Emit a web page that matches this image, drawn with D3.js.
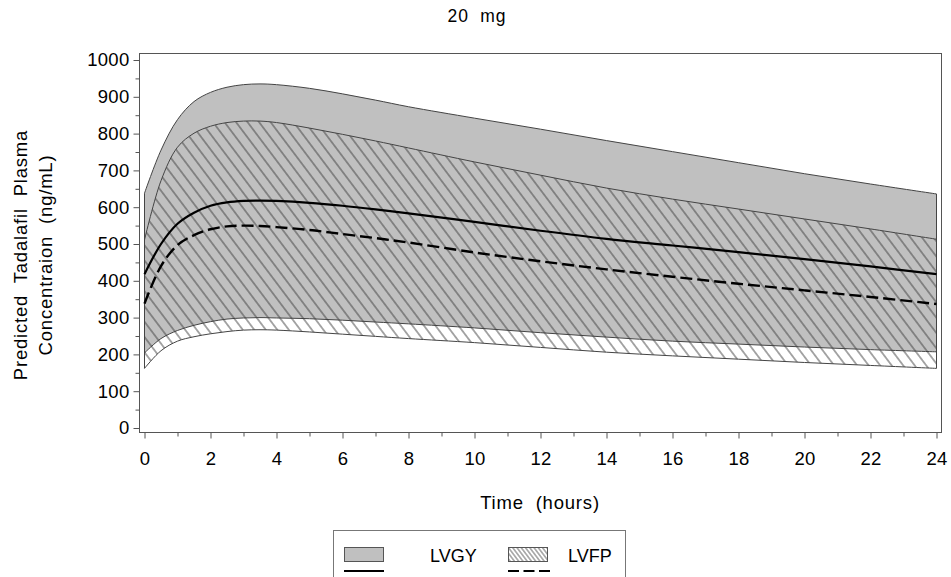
<!DOCTYPE html>
<html>
<head>
<meta charset="utf-8">
<script src="https://cdn.jsdelivr.net/npm/d3@7/dist/d3.min.js"></script>
<style>
  html, body { margin: 0; padding: 0; background: #fff; }
  svg { display: block; font-family: "Liberation Sans", Arial, sans-serif; }
</style>
</head>
<body>
<svg id="chart" width="951" height="577"></svg>
<script>
// Predicted plasma concentration over time, 20 mg dose
const hours = [0, 0.5, 1, 1.5, 2, 2.5, 3, 3.5, 4, 5, 6, 7, 8, 10, 12, 14, 16, 18, 20, 22, 24];

// LVGY: 90% prediction band and median
const lvgyUpper  = [638, 755, 838, 887, 912, 926, 933, 935, 933, 923, 908, 891, 873, 842, 812, 781, 751, 721, 691, 663, 636];
const lvgyMedian = [418, 500, 555, 585, 604, 613, 617, 618, 617, 612, 604, 594, 583, 560, 536, 514, 496, 478, 459, 439, 418];
const lvgyLower  = [204, 243, 265, 279, 289, 296, 299, 300, 299, 297, 293, 288, 283, 272, 259, 247, 236, 228, 220, 213, 207];

// LVFP: 90% prediction band and median
const lvfpUpper  = [511, 672, 763, 801, 820, 830, 834, 834, 830, 815, 798, 780, 761, 723, 687, 652, 622, 595, 568, 541, 513];
const lvfpMedian = [338, 440, 497, 524, 540, 548, 550, 549, 546, 538, 527, 516, 504, 477, 453, 431, 411, 392, 374, 356, 337];
const lvfpLower  = [162, 210, 236, 248, 256, 262, 266, 267, 266, 261, 255, 249, 243, 232, 219, 206, 196, 187, 178, 170, 162];

const xMajorTicks = [0, 2, 4, 6, 8, 10, 12, 14, 16, 18, 20, 22, 24];
const xMinorTicks = [1, 3, 5, 7, 9, 11, 13, 15, 17, 19, 21, 23];
const yMajorTicks = [0, 100, 200, 300, 400, 500, 600, 700, 800, 900, 1000];
const yMinorTicks = [50, 150, 250, 350, 450, 550, 650, 750, 850, 950];

const titleText = "20  mg";
const xTitle = "Time  (hours)";
const yTitleLines = ["Predicted  Tadalafil  Plasma", "Concentraion  (ng/mL)"];
const seriesNames = ["LVGY", "LVFP"];

const svg = d3.select("#chart");
const frame = { left: 139, right: 942, top: 53, bottom: 433 };

const x = d3.scaleLinear().domain([0, 24]).range([144.5, 936.5]);
const y = d3.scaleLinear().domain([0, 1000]).range([428, 60]);

const axisColor = "#555";
const bandStroke = "#444";

// hatch patterns
const defs = svg.append("defs");
function hatch(id, spacing, width) {
  const p = defs.append("pattern")
    .attr("id", id)
    .attr("patternUnits", "userSpaceOnUse")
    .attr("width", spacing)
    .attr("height", 20)
    .attr("patternTransform", "rotate(-37)");
  p.append("line")
    .attr("x1", spacing / 2).attr("y1", 0)
    .attr("x2", spacing / 2).attr("y2", 20)
    .attr("stroke", "#3a3a3a")
    .attr("stroke-width", width);
}
hatch("hatch", 9.2, 0.9);
hatch("hatchSmall", 3.4, 0.8);

defs.append("clipPath").attr("id", "plotClip")
  .append("rect")
  .attr("x", frame.left).attr("y", frame.top)
  .attr("width", frame.right - frame.left)
  .attr("height", frame.bottom - frame.top);

const rows = hours.map((h, i) => ({
  h,
  gyU: lvgyUpper[i], gyM: lvgyMedian[i], gyL: lvgyLower[i],
  fpU: lvfpUpper[i], fpM: lvfpMedian[i], fpL: lvfpLower[i]
}));

const curve = d3.curveCatmullRom.alpha(0.5);
const bandArea = (lo, hi) => d3.area()
  .x(d => x(d.h)).y0(d => y(d[lo])).y1(d => y(d[hi])).curve(curve);
const medLine = key => d3.line().x(d => x(d.h)).y(d => y(d[key])).curve(curve);

const plot = svg.append("g").attr("clip-path", "url(#plotClip)");

// LVGY band (solid gray)
plot.append("path")
  .datum(rows)
  .attr("d", bandArea("gyL", "gyU"))
  .attr("fill", "#c0c0c0")
  .attr("stroke", bandStroke)
  .attr("stroke-width", 1);

// LVFP band (hatched, transparent)
plot.append("path")
  .datum(rows)
  .attr("d", bandArea("fpL", "fpU"))
  .attr("fill", "url(#hatch)")
  .attr("stroke", bandStroke)
  .attr("stroke-width", 1);

// medians
plot.append("path")
  .datum(rows)
  .attr("d", medLine("gyM"))
  .attr("fill", "none")
  .attr("stroke", "#000")
  .attr("stroke-width", 2.2);

plot.append("path")
  .datum(rows)
  .attr("d", medLine("fpM"))
  .attr("fill", "none")
  .attr("stroke", "#000")
  .attr("stroke-width", 2.4)
  .attr("stroke-dasharray", "12,5");

// frame
svg.append("rect")
  .attr("x", frame.left + 0.5).attr("y", frame.top + 0.5)
  .attr("width", frame.right - frame.left - 1)
  .attr("height", frame.bottom - frame.top - 1)
  .attr("fill", "none")
  .attr("stroke", axisColor)
  .attr("stroke-width", 1);

// x axis
const xAxisG = svg.append("g").attr("transform", `translate(0,${frame.bottom - 0.5})`);
xAxisG.call(d3.axisBottom(x).tickValues(xMajorTicks).tickSize(6).tickPadding(13).tickFormat(d3.format("d")));
const xMinorG = svg.append("g").attr("transform", `translate(0,${frame.bottom - 0.5})`);
xMinorG.call(d3.axisBottom(x).tickValues(xMinorTicks).tickSize(4).tickFormat(""));

// y axis
const yAxisG = svg.append("g").attr("transform", `translate(${frame.left + 0.5},0)`);
yAxisG.call(d3.axisLeft(y).tickValues(yMajorTicks).tickSize(6).tickPadding(4).tickFormat(d3.format("d")));
const yMinorG = svg.append("g").attr("transform", `translate(${frame.left + 0.5},0)`);
yMinorG.call(d3.axisLeft(y).tickValues(yMinorTicks).tickSize(4).tickFormat(""));

[xAxisG, xMinorG, yAxisG, yMinorG].forEach(g => {
  g.select(".domain").remove();
  g.selectAll(".tick line").attr("stroke", axisColor);
  g.selectAll(".tick text")
    .attr("fill", "#000")
    .style("font-family", "Liberation Sans, Arial, sans-serif")
    .style("font-size", "18.5px")
    .style("letter-spacing", "0.3px");
});

// titles
svg.append("text")
  .attr("x", 477).attr("y", 22)
  .attr("text-anchor", "middle")
  .style("font-size", "17.5px")
  .style("letter-spacing", "0.9px")
  .style("white-space", "pre")
  .text(titleText);

svg.append("text")
  .attr("x", 540).attr("y", 509)
  .attr("text-anchor", "middle")
  .style("font-size", "18.5px")
  .style("letter-spacing", "0.8px")
  .style("white-space", "pre")
  .text(xTitle);

const yt = svg.append("text")
  .attr("transform", "translate(0,255) rotate(-90)")
  .attr("text-anchor", "middle")
  .style("font-size", "18.5px")
  .style("letter-spacing", "0.8px")
  .style("white-space", "pre");
yTitleLines.forEach((t, i) => {
  yt.append("tspan").attr("x", 0).attr("y", 27 + i * 25).text(t);
});

// legend
const lg = svg.append("g");
lg.append("rect")
  .attr("x", 333.5).attr("y", 530.5)
  .attr("width", 292).attr("height", 60)
  .attr("fill", "#fff")
  .attr("stroke", "#777");

const legendItems = [
  { name: seriesNames[0], fill: "#c0c0c0", dash: null, sx: 344, tx: 430 },
  { name: seriesNames[1], fill: "url(#hatchSmall)", dash: "11,4.5", sx: 508, tx: 568 }
];
legendItems.forEach(it => {
  lg.append("rect")
    .attr("x", it.sx + 0.5).attr("y", 547.5)
    .attr("width", 39).attr("height", 14)
    .attr("fill", it.fill)
    .attr("stroke", "#555");
  lg.append("line")
    .attr("x1", it.sx).attr("x2", it.sx + (it.dash ? 44 : 40))
    .attr("y1", 571).attr("y2", 571)
    .attr("stroke", "#000").attr("stroke-width", 2)
    .attr("stroke-dasharray", it.dash);
  lg.append("text")
    .attr("x", it.tx).attr("y", 562)
    .style("font-size", "18px")
    .text(it.name);
});
</script>
</body>
</html>
